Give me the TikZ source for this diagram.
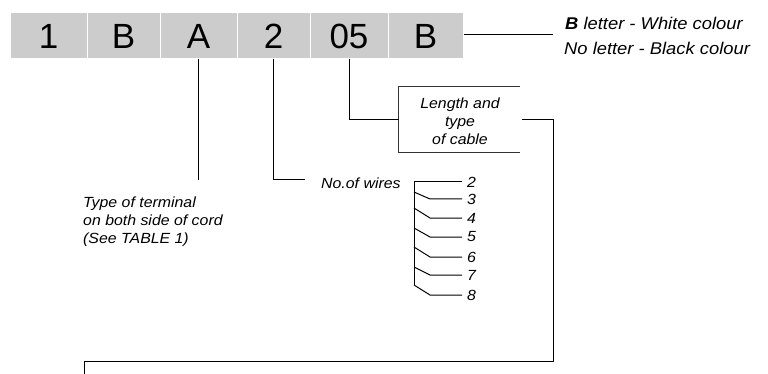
\documentclass[tikz,border=0pt]{standalone}
\usepackage{fontspec}
\setmainfont{Liberation Sans}
\newfontfamily\labfont[FakeStretch=1.08]{Liberation Sans}
\definecolor{cellgray}{HTML}{CCCCCC}
\begin{document}
\begin{tikzpicture}[x=1pt,y=-1pt,
  cell/.style={fill=cellgray, draw=white, line width=1pt, minimum height=46pt, inner sep=0pt,
    font=\fontsize{35}{35}\selectfont},
  lab/.style={font=\labfont\itshape\fontsize{14.7}{18}\selectfont, inner sep=0pt},
  biglab/.style={font=\labfont\itshape\fontsize{17}{20}\selectfont, inner sep=0pt, anchor=base west},
  num/.style={lab, anchor=west, inner xsep=5pt},
  conn/.style={line width=1pt, black},
  frame/.style={line width=0.8pt, black!80}]
\useasboundingbox (0,0) rectangle (768,374);
% code cells
\node[cell, minimum width=77pt] (c1) at (48.5,36) {1};
\node[cell, minimum width=73pt] (c2) at (123.5,36) {B};
\node[cell, minimum width=77pt] (c3) at (198.5,36) {A};
\node[cell, minimum width=73pt] (c4) at (273.5,36) {2};
\node[cell, minimum width=78pt] (c5) at (349,36) {05};
\node[cell, minimum width=75pt] (c6) at (425.5,36) {B};
% colour note
\coordinate (bend) at (553,35);
\draw[conn] (c6.east |- bend) -- (bend);
\node[biglab] (bl) at (565,30) {\textbf{B} letter - White colour};
\node[biglab] (nl) at (564,55) {No letter - Black colour};
% terminal
\coordinate (aend) at (198.5,180);
\draw[conn] (c3.south) -- (aend);
\node[lab, anchor=north west, align=left] (tt) at (83,197) {Type of terminal\\on both side of cord\\(See TABLE 1)};
% wires
\coordinate (wend) at (305,180);
\draw[conn] (c4.south) |- (wend);
\node[lab, anchor=west] (nw) at (321,183) {No.of wires};
% length box
\node[minimum width=121pt, minimum height=66pt, inner sep=0pt] (len) at (459.5,119.5) {};
\draw[frame] (len.north east) -- (len.north west) -- (len.south west) -- (len.south east);
\node[lab, align=center] (lt) at (460,121) {Length and\\type\\of cable};
\draw[conn] (c5.south) |- (len.west);
\coordinate (r1) at (553,119.5);
\coordinate (r2) at (553,361);
\coordinate (r3) at (84,361);
\coordinate (r4) at (84,374);
\draw[conn] ([xshift=2pt]len.east) -- (r1) -- (r2) -- (r3) -- (r4);
% wire numbers
\node[num] (n2) at (462,182) {2};
\node[num] (n3) at (462,199) {3};
\node[num] (n4) at (462,218) {4};
\node[num] (n5) at (462,237) {5};
\node[num] (n6) at (462,257) {6};
\node[num] (n7) at (462,275) {7};
\node[num] (n8) at (462,295) {8};
\coordinate (v0) at (414,182);
\coordinate (v8) at (414,285);
\coordinate (k3) at (414,192);
\coordinate (k4) at (414,208);
\coordinate (k5) at (414,228);
\coordinate (k6) at (414,247);
\coordinate (k7) at (414,267);
\draw[conn] (v8) -- (v0) -- (n2.west);
\draw[conn] (k3) -- ++(16,7) -- (n3.west);
\draw[conn] (k4) -- ++(16,10) -- (n4.west);
\draw[conn] (k5) -- ++(16,9) -- (n5.west);
\draw[conn] (k6) -- ++(16,10) -- (n6.west);
\draw[conn] (k7) -- ++(16,8) -- (n7.west);
\draw[conn] (v8) -- ++(16,10) -- (n8.west);
\end{tikzpicture}
\end{document}
